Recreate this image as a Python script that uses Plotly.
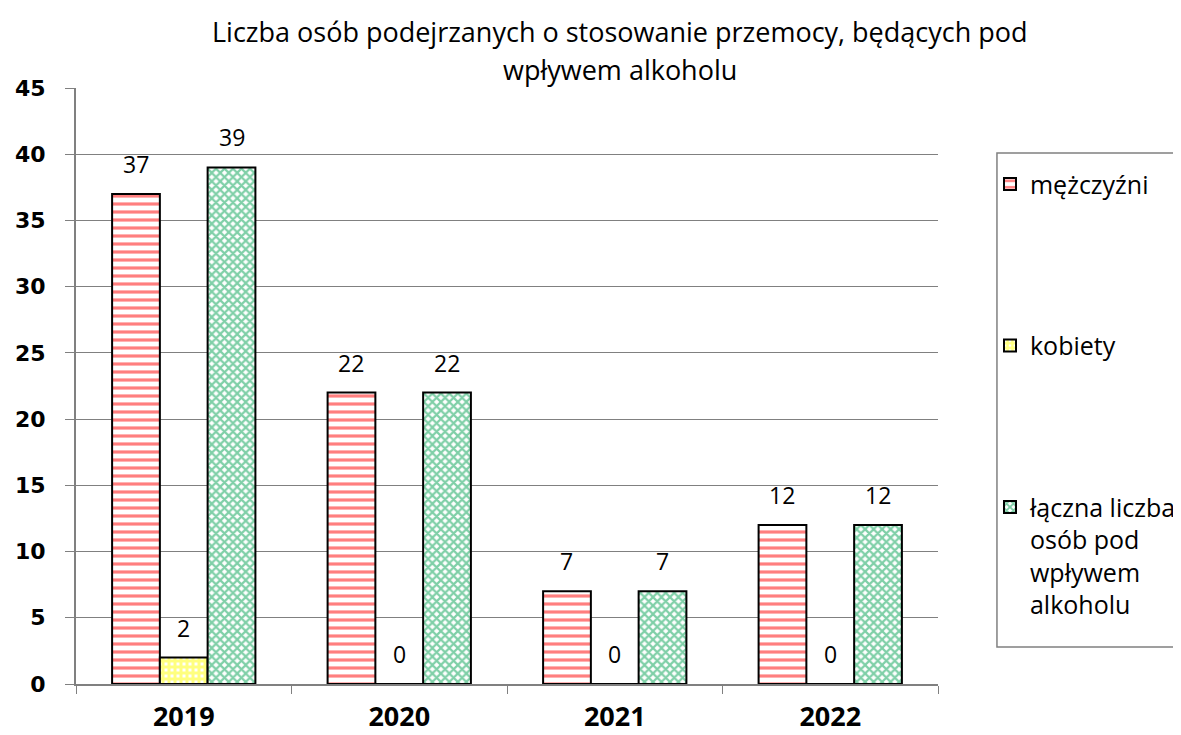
import plotly.graph_objects as go

years = ["2019", "2020", "2021", "2022"]
men = [37, 22, 7, 12]
women = [2, 0, 0, 0]
total = [39, 22, 7, 12]
names = ["mężczyźni", "kobiety", "łączna liczba<br>osób pod<br>wpływem<br>alkoholu"]
title_lines = ["Liczba osób podejrzanych o stosowanie przemocy, będących pod", "wpływem alkoholu"]

TXT = "Open Sans, Lato, sans-serif"

styles = [
    dict(shape="-", fgcolor="#FF0000", bgcolor="white", size=8, solidity=0.4),
    dict(shape="+", fgcolor="#FFFF00", bgcolor="white", size=6, solidity=0.75),
    dict(shape="x", fgcolor="#00A050", bgcolor="white", size=6, solidity=0.6),
]

fig = go.Figure()
for i, (vals, nm) in enumerate(zip([men, women, total], names)):
    fig.add_trace(go.Bar(
        x=years, y=vals, name=nm, legendgroup=str(i),
        marker=dict(color="white", pattern=styles[i], line=dict(color="black", width=2)),
    ))

# data labels (x given as category index)
for i, vals in enumerate([men, women, total]):
    for j, v in enumerate(vals):
        fig.add_annotation(
            x=j, y=v, text=str(v), showarrow=False,
            xref="x", yref="y", yanchor="middle", yshift=30,
            xshift=(i - 1) * 47.8,
            font=dict(family=TXT, size=23, color="black"),
        )

# title lines
for line, yy in zip(title_lines, [1.094, 1.031]):
    fig.add_annotation(text=line, x=0.631, y=yy, xref="paper", yref="paper",
                       xanchor="center", yanchor="middle", showarrow=False,
                       font=dict(family=TXT, size=27, color="black"))

# legend frame
fig.add_shape(type="rect", xref="paper", yref="paper",
              x0=1.0684, x1=1.2807, y0=0.062, y1=0.891,
              line=dict(color="#808080", width=1.5), fillcolor="rgba(0,0,0,0)")

fig.update_layout(
    width=1173, height=727,
    paper_bgcolor="white", plot_bgcolor="white",
    margin=dict(l=68, r=243, t=80, b=51, autoexpand=False),
    barmode="group", bargap=0.335, bargroupgap=0,
    legend=dict(x=1.0603, xanchor="left", y=0.877, yanchor="top",
                bgcolor="rgba(0,0,0,0)", borderwidth=0,
                font=dict(family=TXT, size=25, color="black"),
                tracegroupgap=126, itemwidth=30, traceorder="grouped", valign="top"),
    showlegend=True,
)
fig.update_yaxes(range=[0, 45], dtick=5, showgrid=True, gridcolor="#808080", gridwidth=1,
                 showline=True, linecolor="#808080", linewidth=1.5,
                 ticks="outside", ticklen=9, tickcolor="#808080",
                 ticksuffix="\u00a0\u00a0",
                 tickfont=dict(family="DejaVu Sans", size=22, color="black", weight="bold"),
                 zeroline=False)
fig.update_xaxes(type="category", range=[-0.5, 3.5], categoryorder="array", categoryarray=years,
                 showline=True, linecolor="#808080", linewidth=1.5,
                 ticks="outside", ticklen=8, tickcolor="#808080", tickson="boundaries",
                 ticklabelstandoff=8,
                 tickfont=dict(family=TXT, size=27, color="black", weight="bold"))

fig.write_html("out.html")
